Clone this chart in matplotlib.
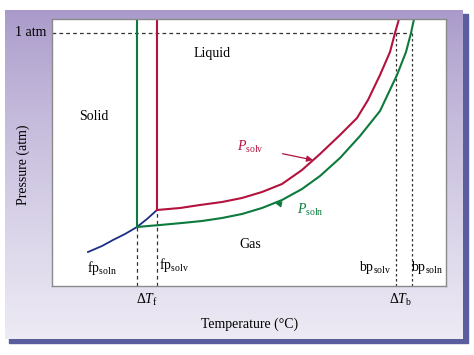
import matplotlib
matplotlib.use('Agg')
import matplotlib.pyplot as plt
import numpy as np
from matplotlib.patches import Rectangle

plt.rcParams['font.family'] = ['Liberation Serif', 'DejaVu Serif']
plt.rcParams['mathtext.fontset'] = 'custom'
plt.rcParams['mathtext.rm'] = 'Liberation Serif'
plt.rcParams['mathtext.it'] = 'Liberation Serif:italic'

# curves (temperature, pressure in arbitrary units)
solv_T = [105, 128, 148, 170, 190, 210, 230, 250, 268, 288, 305, 316, 328,
          338, 343, 347]
solv_P = [76, 78, 81, 84, 88, 94, 102, 116, 132, 151, 168, 186, 211,
          234, 253, 267]
soln_T = [85, 108, 130, 150, 170, 190, 210, 230, 250, 268, 288, 308, 328,
          345, 354, 359, 362]
soln_P = [59, 61, 63, 65, 68, 72, 78, 86, 97, 110, 128, 150, 175,
          211, 234, 253, 267]
subl_T = [36, 50, 61, 73, 85, 95, 105]
subl_P = [34, 40, 46, 52, 59, 67, 76]

one_atm = 253
fp_soln, fp_solv = 85, 105
bp_solv, bp_soln = 344, 360
t_max, p_max = 394, 267

red = '#b3123e'
green = '#0c7a3c'
blue = '#1b2d84'
dash = '#333333'

fig = plt.figure(figsize=(4.74, 3.55), dpi=100, facecolor='white')

# background panel with gradient and shadow (pixel coords)
bg = fig.add_axes([0, 0, 1, 1])
bg.axis('off')
bg.add_patch(Rectangle((9, 14), 459, 329, color='#5b5e9e', zorder=1))
grad = np.linspace(0, 1, 256).reshape(-1, 1)
top = np.array([0.66, 0.60, 0.79])
bottom = np.array([0.93, 0.92, 0.96])
img = (top + (bottom - top) * grad[..., None] ** 0.8).reshape(256, 1, 3)
bg.imshow(img, extent=[5, 463, 339, 10], aspect='auto', zorder=2)
bg.set_xlim(0, 474)
bg.set_ylim(355, 0)

ax = fig.add_axes([52 / 474, (355 - 286) / 355, 394 / 474, 267 / 355])
ax.set_facecolor('white')
ax.set_xlim(0, t_max)
ax.set_ylim(0, p_max)
ax.set_xticks([])
ax.set_yticks([])
for s in ax.spines.values():
    s.set_color('#8a8a8a')
    s.set_linewidth(1.0)

# dashed guide lines
ax.plot([0, bp_soln], [one_atm, one_atm], ls=(0, (3, 2.5)), color=dash, lw=0.9)
for t, p in [(fp_soln, soln_P[0]), (fp_solv, solv_P[0])]:
    ax.plot([t, t], [0, p], ls=(0, (3, 2.5)), color=dash, lw=0.9)
for t in [bp_solv, bp_soln]:
    ax.plot([t, t], [0, one_atm], ls=(0, (2, 2)), color=dash, lw=0.9)

# phase boundaries
ax.plot(subl_T, subl_P, color=blue, lw=1.3, solid_joinstyle='round')
ax.plot(solv_T, solv_P, color=red, lw=1.5, solid_joinstyle='round')
ax.plot(soln_T, soln_P, color=green, lw=1.5, solid_joinstyle='round')
ax.plot([fp_solv, fp_solv], [solv_P[0], p_max], color=red, lw=1.5)
ax.plot([fp_soln, fp_soln], [soln_P[0], p_max], color=green, lw=1.5)

# region labels
fs = 10
ax.text(160, 233, 'Liquid', fontsize=fs, ha='center', va='center')
ax.text(42, 169, 'Solid', fontsize=fs, ha='center', va='center')
ax.text(198, 41, 'Gas', fontsize=fs, ha='center', va='center')
ax.text(50, 18, r'fp$_{\rm soln}$', fontsize=fs, ha='center', va='center')
ax.text(122, 21, r'fp$_{\rm solv}$', fontsize=fs, ha='center', va='center')
ax.text(323, 18, r'bp$_{\rm solv}$', fontsize=fs, ha='center', va='center')
ax.text(375, 18, r'bp$_{\rm soln}$', fontsize=fs, ha='center', va='center')

ax.annotate(r'$P_{\rm solv}$', xy=(261, 126), xytext=(198, 139),
            color=red, fontsize=fs, ha='center', va='center',
            arrowprops=dict(arrowstyle='-|>', color=red, lw=0.9,
                            shrinkA=12, shrinkB=0, mutation_scale=9))
ax.annotate(r'$P_{\rm soln}$', xy=(223, 83), xytext=(258, 76),
            color=green, fontsize=fs, ha='center', va='center',
            arrowprops=dict(arrowstyle='-|>', color=green, lw=0.9,
                            shrinkA=12, shrinkB=0, mutation_scale=9))

# labels outside the plot
ax.text(95, -14, r'$\Delta T_{\rm f}$', fontsize=fs, ha='center', va='center')
ax.text(349, -14, r'$\Delta T_{\rm b}$', fontsize=fs, ha='center', va='center')
ax.text(-6, one_atm, '1 atm', fontsize=fs, ha='right', va='center')
ax.text(198, -38, 'Temperature (°C)', fontsize=fs, ha='center', va='center')
ax.text(-29, 121, 'Pressure (atm)', fontsize=fs, ha='center', va='center',
        rotation=90)

fig.savefig('out.png', dpi=100, facecolor='white')
